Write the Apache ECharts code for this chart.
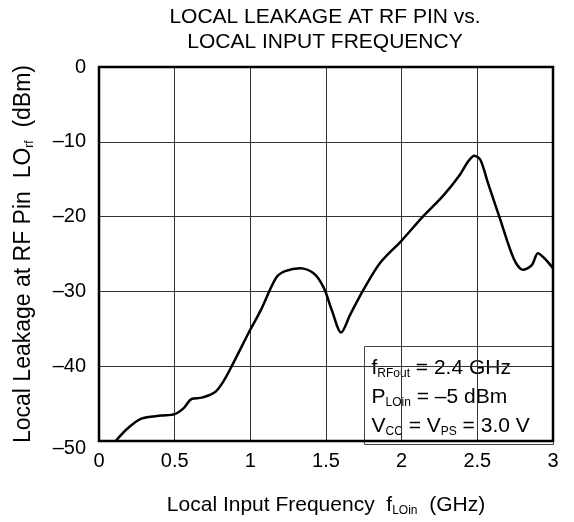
<!DOCTYPE html>
<html>
<head>
<meta charset="utf-8">
<script src="https://cdn.jsdelivr.net/npm/echarts@6/dist/echarts.min.js"></script>
<style>
html,body{margin:0;padding:0;background:#fff;}
#chart{width:574px;height:522px;}
</style>
</head>
<body>
<div id="chart"></div>
<script>
// Data
var freqGHz = [0.11,0.19,0.28,0.41,0.50,0.56,0.61,0.68,0.77,0.82,0.877,1.0,1.067,1.17,1.23,1.33,1.42,1.485,1.54,1.60,1.66,1.747,1.857,2.0,2.14,2.275,2.385,2.44,2.48,2.52,2.57,2.65,2.74,2.80,2.86,2.90,2.945,3.0];
var leakageDBm = [-50,-48.3,-47.0,-46.6,-46.4,-45.6,-44.4,-44.2,-43.4,-42.1,-40,-35.1,-32.6,-28.2,-27.3,-26.9,-27.6,-29.5,-32.6,-35.5,-33.1,-29.8,-26.2,-23.2,-20,-17.2,-14.4,-12.6,-11.85,-12.4,-15.5,-20.3,-25.6,-27.1,-26.5,-24.9,-25.6,-26.9];
var xTickLabels = ['0','0.5','1','1.5','2','2.5','3'];
var yTickLabels = ['–50','–40','–30','–20','–10','0'];
var titleLines = ['LOCAL LEAKAGE AT RF PIN vs.', 'LOCAL INPUT FREQUENCY'];
var noteLines = [
  '{m|f}{s|RFout}{m| = 2.4 GHz}',
  '{m|P}{s|LOin}{m| = –5 dBm}',
  '{m|V}{s|CC}{m| = V}{s|PS}{m| = 3.0 V}'
];

var FONT = '"Liberation Sans", Arial, Helvetica, sans-serif';
var points = freqGHz.map(function (f, i) { return [f, leakageDBm[i]]; });

var chart = echarts.init(document.getElementById('chart'), null, {renderer: 'canvas'});

var noteTexts = noteLines.map(function (t, i) {
  return {type: 'text', x: 7, y: 10 + i * 29, style: {
    text: t,
    rich: {
      m: {fontSize: 21, fontFamily: FONT, fill: '#000', lineHeight: 23},
      s: {fontSize: 12, fontFamily: FONT, fill: '#000', verticalAlign: 'bottom'}
    }
  }};
});

chart.setOption({
  animation: false,
  backgroundColor: '#fff',
  grid: {left: 99, right: 21, top: 67, bottom: 78, show: true, borderColor: '#000', borderWidth: 2.5, backgroundColor: 'transparent', z: 3},
  xAxis: {
    type: 'value', min: 0, max: 3, interval: 0.5,
    axisLine: {show: false}, axisTick: {show: false},
    splitLine: {show: true, lineStyle: {color: '#333', width: 1}},
    axisLabel: {fontSize: 20, fontFamily: FONT, color: '#000', margin: 10,
      formatter: function (v) { return xTickLabels[Math.round(v / 0.5)]; }},
    name: '{m|Local Input Frequency  f}{s|LOin}{m|  (GHz)}',
    nameLocation: 'middle', nameGap: 53,
    nameTextStyle: {rich: {
      m: {fontSize: 21, fontFamily: FONT, color: '#000', lineHeight: 23},
      s: {fontSize: 12, fontFamily: FONT, color: '#000', verticalAlign: 'bottom'}
    }}
  },
  yAxis: {
    type: 'value', min: -50, max: 0, interval: 10,
    axisLine: {show: false}, axisTick: {show: false},
    splitLine: {show: true, lineStyle: {color: '#333', width: 1}},
    axisLabel: {fontSize: 20, fontFamily: FONT, color: '#000', margin: 13,
      formatter: function (v) {
        var i = Math.round((v + 50) / 10);
        return i === 0 ? '{low|' + yTickLabels[i] + '}' : yTickLabels[i];
      },
      rich: {low: {fontSize: 20, fontFamily: FONT, color: '#000', padding: [15, 0, 0, 0]}}
    },
    name: '{m|Local Leakage at RF Pin  LO}{s|rf}{m|  (dBm)}',
    nameLocation: 'middle', nameGap: 63, nameRotate: 90,
    nameTextStyle: {rich: {
      m: {fontSize: 23, fontFamily: FONT, color: '#000', lineHeight: 25},
      s: {fontSize: 12, fontFamily: FONT, color: '#000', verticalAlign: 'bottom'}
    }}
  },
  series: [{
    type: 'line', data: points, smooth: 0.3, showSymbol: false, symbol: 'none',
    lineStyle: {color: '#000', width: 2.5}, clip: true, z: 4
  }],
  graphic: [
    {type: 'text', x: 325, y: 5, z: 10,
      style: {text: titleLines.join('\n'), font: '21px ' + FONT, fill: '#000', align: 'center', verticalAlign: 'top', lineHeight: 25}},
    {type: 'group', left: 364, top: 346, z: 10, children: [
      {type: 'rect', shape: {x: 0, y: 0, width: 189, height: 98}, style: {fill: '#fff', stroke: '#444', lineWidth: 1}}
    ].concat(noteTexts)}
  ]
});
</script>
</body>
</html>
